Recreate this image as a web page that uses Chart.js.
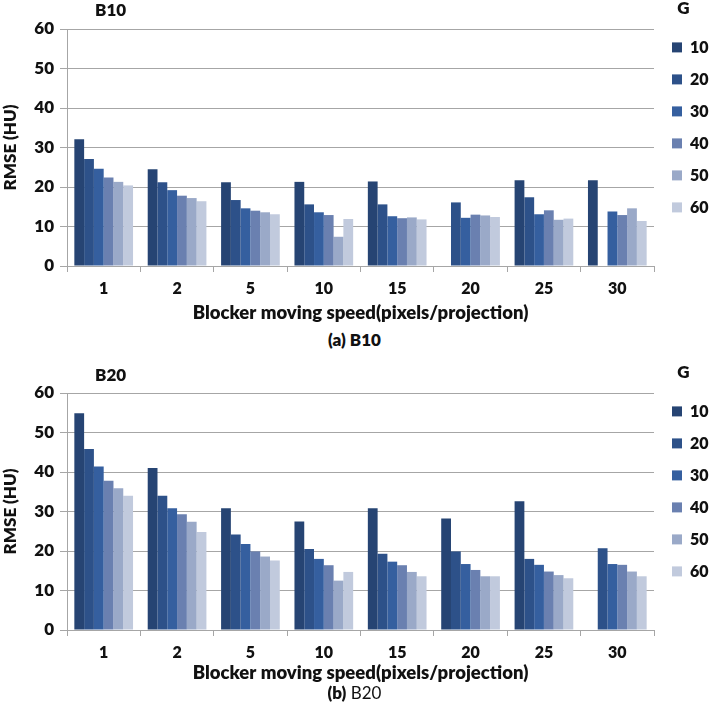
<!DOCTYPE html>
<html>
<head>
<meta charset="utf-8">
<script src="https://cdn.jsdelivr.net/npm/chart.js@4/dist/chart.umd.min.js"></script>
<style>
  html, body { margin: 0; padding: 0; background: #fff; }
  body { width: 709px; height: 718px; position: relative; overflow: hidden; font-family: Lato, "Open Sans", sans-serif; }
  .wrap { position: absolute; left: 0; width: 709px; height: 326px; }
  .lbl { position: absolute; font-weight: 800; font-size: 17px; line-height: 20px; color: #111; white-space: nowrap; }
  .cap { position: absolute; left: 0; width: 709px; text-align: center; font-size: 17px; line-height: 20px; color: #111; }
</style>
</head>
<body>
<div class="wrap" style="top:0px"><canvas id="c1" width="709" height="326"></canvas></div>
<div class="wrap" style="top:364px"><canvas id="c2" width="709" height="326"></canvas></div>
<div class="lbl" style="left:95px; top:0px;">B10</div>
<div class="lbl" style="left:95px; top:365px;">B20</div>
<div class="cap" style="top:330px; font-weight:800;">(a) B10</div>
<div class="cap" style="top:683px;"><b style="font-weight:800">(b)</b> B20</div>
<script>
const categories = ['1', '2', '5', '10', '15', '20', '25', '30'];
const groupLabels = ['10', '20', '30', '40', '50', '60'];
const yTicks = [0, 10, 20, 30, 40, 50, 60];

// Chart (a) B10 — RMSE (HU) per G
const b10_G10 = [32.1, 24.5, 21.2, 21.3, 21.4, null, 21.7, 21.7];
const b10_G20 = [27.1, 21.2, 16.7, 15.6, 15.6, 16.1, 17.4, null];
const b10_G30 = [24.6, 19.2, 14.6, 13.6, 12.6, 12.2, 13.1, 13.8];
const b10_G40 = [22.4, 17.8, 14.0, 12.9, 12.1, 13.0, 14.1, 12.9];
const b10_G50 = [21.3, 17.2, 13.6, 7.4, 12.3, 12.8, 11.7, 14.6];
const b10_G60 = [20.4, 16.4, 13.1, 11.9, 11.8, 12.4, 12.0, 11.4];

// Chart (b) B20 — RMSE (HU) per G
const b20_G10 = [54.9, 41.0, 30.8, 27.5, 30.8, 28.2, 32.6, null];
const b20_G20 = [45.8, 34.0, 24.2, 20.5, 19.3, 19.9, 18.0, 20.7];
const b20_G30 = [41.4, 30.8, 21.8, 18.0, 17.3, 16.7, 16.5, 16.7];
const b20_G40 = [37.8, 29.3, 19.9, 16.4, 16.4, 15.2, 14.8, 16.5];
const b20_G50 = [35.9, 27.4, 18.6, 12.5, 14.7, 13.6, 13.9, 14.8];
const b20_G60 = [34.0, 24.8, 17.6, 14.7, 13.6, 13.6, 13.1, 13.6];

const colors = ['#264473', '#2d5189', '#355f9f', '#6a80b0', '#9aa9c8', '#c1cadd'];
const FONT = 'Lato, "Open Sans", sans-serif';
const W = '800';
const GRID = '#a6a6a6';

const legendFix = {
  id: 'legendFix',
  beforeLayout(chart) {
    const lg = chart.legend;
    if (lg && !lg.__patched) {
      const orig = lg.fit;
      lg.fit = function () { orig.call(this); this.width = 55; };
      lg.__patched = true;
    }
  },
  afterLayout(chart) {
    const lg = chart.legend;
    if (lg) {
      lg.top = 0; lg.bottom = chart.height; lg.height = chart.height;
      lg.left = 656; lg.right = 711; lg.width = 55;
    }
  }
};

function makeChart(id, series, titleBottomPad) {
  const datasets = series.map((d, i) => ({
    label: groupLabels[i],
    data: d,
    backgroundColor: colors[i],
    borderWidth: 0
  }));
  return new Chart(document.getElementById(id), {
    type: 'bar',
    data: { labels: categories, datasets },
    plugins: [legendFix],
    options: {
      responsive: false,
      animation: false,
      layout: { padding: { top: 29, left: 0, right: 0, bottom: 0 } },
      datasets: { bar: { categoryPercentage: 0.8, barPercentage: 1.0 } },
      plugins: {
        tooltip: { enabled: false },
        legend: {
          position: 'right',
          align: 'start',
          title: { display: true, text: 'G', color: '#111', font: { family: FONT, size: 17, weight: W }, padding: { top: 0, bottom: 3 } },
          labels: { boxWidth: 10, boxHeight: 10, padding: 16, color: '#111', font: { family: FONT, size: 16, weight: W } }
        }
      },
      scales: {
        x: {
          afterFit: (s) => { s.height = 60; },
          grid: { display: true, drawOnChartArea: false, drawTicks: true, tickLength: 6, offset: true, color: GRID },
          border: { display: true, color: GRID },
          ticks: { color: '#111', padding: 7, font: { family: FONT, size: 16, weight: W } },
          title: { display: true, text: 'Blocker moving speed(pixels/projection)', color: '#111', font: { family: FONT, size: 18.5, weight: W }, padding: { top: 0, bottom: titleBottomPad } }
        },
        y: {
          min: 0, max: 60,
          afterFit: (s) => { s.width = 67; },
          afterBuildTicks: (s) => { s.ticks = yTicks.map(v => ({ value: v })); },
          grid: { color: GRID, tickLength: 7, drawTicks: true },
          border: { display: true, color: GRID },
          ticks: { color: '#111', padding: 6, font: { family: FONT, size: 17, weight: W } },
          title: { display: true, text: 'RMSE (HU)', color: '#111', font: { family: FONT, size: 17, weight: W }, padding: { top: 0, bottom: 0 } }
        }
      }
    }
  });
}

makeChart('c1', [b10_G10, b10_G20, b10_G30, b10_G40, b10_G50, b10_G60], 2);
makeChart('c2', [b20_G10, b20_G20, b20_G30, b20_G40, b20_G50, b20_G60], 6);
</script>
</body>
</html>
